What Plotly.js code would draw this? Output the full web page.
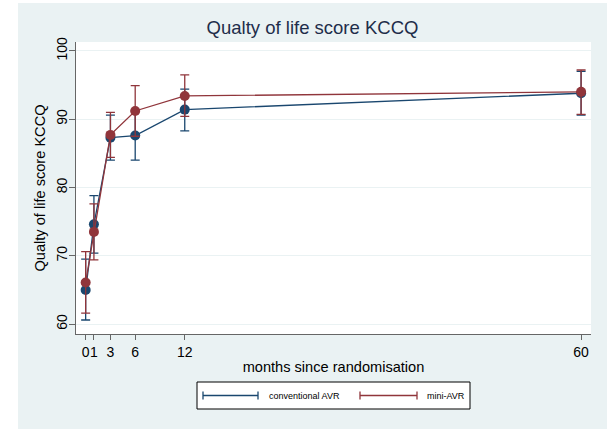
<!DOCTYPE html>
<html><head><meta charset="utf-8">
<script src="https://cdn.plot.ly/plotly-3.0.1.min.js"></script>
<style>
html,body{margin:0;padding:0;background:#fff;}
#chart{position:absolute;left:18px;top:3px;width:589px;height:426px;}
</style></head>
<body><div id="chart"></div>
<script>
const months = [0, 1, 3, 6, 12, 60];
const xTicks = [0, 1, 3, 6, 12, 60];
const yTicks = [60, 70, 80, 90, 100];

const convName = "conventional AVR";
const convMean = [65.0, 74.6, 87.3, 87.6, 91.4, 93.8];
const convLow  = [60.6, 70.4, 84.0, 84.0, 88.3, 90.6];
const convHigh = [69.5, 78.8, 90.6, 91.2, 94.4, 97.0];

const miniName = "mini-AVR";
const miniMean = [66.1, 73.5, 87.7, 91.2, 93.4, 94.0];
const miniLow  = [61.6, 69.4, 84.4, 87.5, 90.4, 90.7];
const miniHigh = [70.6, 77.6, 91.0, 94.9, 96.5, 97.2];

const NAVY = "#1a476f", MAROON = "#90353b";

function trace(name, mean, lo, hi, color){
  return {
    type: "scatter", mode: "lines+markers", name: name,
    x: months, y: mean,
    line: {color: color, width: 1.3},
    marker: {color: color, size: 10},
    error_y: {type: "data", symmetric: false,
      array: hi.map((h,i)=>h-mean[i]),
      arrayminus: lo.map((l,i)=>mean[i]-l),
      color: color, thickness: 1.3, width: 4.5},
    showlegend: false
  };
}

const W = 589, H = 426, ML = 58, MR = 16, MT = 39, MB = 95;
const PW = W - ML - MR, PH = H - MT - MB;
// page px -> paper coords
const px = x => (x - 18 - ML) / PW;
const py = y => (H - MB - (y - 3)) / PH;

const shapes = [
  {type:"rect", xref:"paper", yref:"paper", x0:px(197), x1:px(470), y0:py(409), y1:py(382),
   line:{color:"#000", width:1}, fillcolor:"#fff", layer:"above"}
];
function legLine(x0, x1, y, color){
  shapes.push({type:"line", xref:"paper", yref:"paper", x0:px(x0), x1:px(x1), y0:py(y), y1:py(y), line:{color:color, width:1.3}});
  [x0, x1].forEach(x => shapes.push({type:"line", xref:"paper", yref:"paper", x0:px(x), x1:px(x), y0:py(y-4), y1:py(y+4), line:{color:color, width:1.3}}));
}
legLine(203, 258, 395.5, NAVY);
legLine(360, 417, 395.5, MAROON);

const annotations = [
  {xref:"paper", yref:"paper", x:px(267), y:py(395.5), xanchor:"left", yanchor:"middle", showarrow:false,
   text: convName, font:{family:"Liberation Sans, Arial", size:9, color:"#000"}},
  {xref:"paper", yref:"paper", x:px(425), y:py(395.5), xanchor:"left", yanchor:"middle", showarrow:false,
   text: miniName, font:{family:"Liberation Sans, Arial", size:9, color:"#000"}}
];

const layout = {
  width: W, height: H,
  paper_bgcolor: "#eaf2f3", plot_bgcolor: "#ffffff",
  margin: {l: ML, r: MR, t: MT, b: MB},
  font: {family: "Liberation Sans, Arial, sans-serif", size: 14, color: "#000"},
  title: {text: "Qualty of life score KCCQ", x: 0.5, xref: "container", xanchor: "center",
          y: 1 - 25/H, yref: "container", yanchor: "middle",
          font: {size: 18.5, color: "#1e2d4a"}},
  xaxis: {range: [-1.17, 61.2], tickvals: xTicks, ticktext: xTicks.map(String), tickangle: 0,
          showgrid: false, zeroline: false, showline: true, linecolor: "#666", linewidth: 1.2,
          ticks: "outside", ticklen: 5, tickcolor: "#666", tickfont: {size: 14},
          title: {text: "months since randomisation", font: {size: 14.6}, standoff: 2}},
  yaxis: {range: [58.55, 101.3], tickvals: yTicks, ticktext: yTicks.map(String), tickangle: -90,
          showgrid: true, gridcolor: "#eaf2f3", gridwidth: 1, zeroline: false,
          showline: true, linecolor: "#666", linewidth: 1.2,
          ticks: "outside", ticklen: 6, tickcolor: "#666", tickfont: {size: 14},
          ticklabelstandoff: -4,
          title: {text: "Qualty of life score KCCQ", font: {size: 14.6}, standoff: 5}},
  shapes: shapes, annotations: annotations, showlegend: false
};

Plotly.newPlot("chart", [trace(convName, convMean, convLow, convHigh, NAVY),
                         trace(miniName, miniMean, miniLow, miniHigh, MAROON)], layout,
               {staticPlot: true, displayModeBar: false});
</script></body></html>
